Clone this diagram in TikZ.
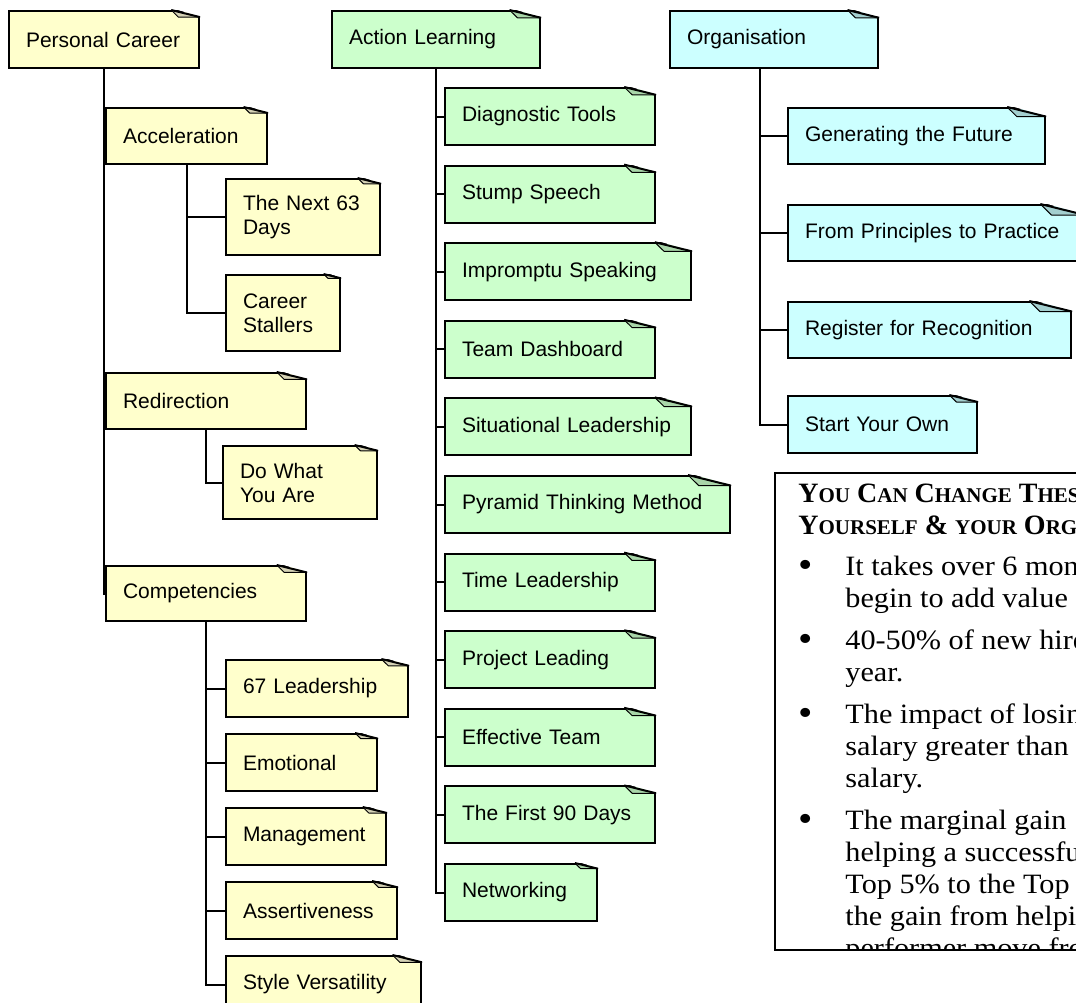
\documentclass[tikz,border=0pt]{standalone}
\usepackage{fontspec}
\setmainfont{Liberation Sans}
\newfontfamily\boxfont[FakeStretch=1.08]{Liberation Serif}
\newfontfamily\headfont{Liberation Serif}
\usetikzlibrary{positioning, calc}

\definecolor{noteyellow}{HTML}{FFFFCC}
\definecolor{notegreen}{HTML}{CCFFCC}
\definecolor{notecyan}{HTML}{CCFFFF}
\definecolor{foldyellow}{HTML}{D6D3B5}
\definecolor{foldgreen}{HTML}{A9D6A9}
\definecolor{foldcyan}{HTML}{A3CFCF}

\tikzset{
  leaf/.style={rectangle, draw=black, line width=1pt, anchor=north west, inner xsep=8.5pt, inner ysep=0pt, minimum height=28.5pt, text width=#1, align=left, font=\fontsize{10.5}{12}\selectfont},
  yleaf/.style={leaf=#1, fill=noteyellow},
  gleaf/.style={leaf=#1, fill=notegreen},
  cleaf/.style={leaf=#1, fill=notecyan},
  branch/.style={line width=1pt},
  fact/.style={anchor=base west, align=left, inner sep=0pt, font=\boxfont\fontsize{14}{16}\selectfont},
  dot/.style={anchor=base west, inner sep=0pt, font=\boxfont\fontsize{19}{16}\selectfont},
}

% dog-ear on the top right corner of a note
\newcommand{\fold}[2]{%
  \coordinate (f1) at ($(#1.north east)!0.15!(#1.north west)$);
  \coordinate (f2) at ($(#1.north east)!0.037!90:(#1.north west)$);
  \coordinate (f3) at ($(f1 |- f2)!0.25!(f2)$);
  \fill[white] ([yshift=1pt]f1) -- ([shift={(1pt,1pt)}]#1.north east) -- ([xshift=1pt]f2) -- cycle;
  \filldraw[fill=#2, line width=0.5pt, line join=round] (f1) -- (f3) -- (f2);
  \draw[line width=1pt] (f1) -- (f2);
}
\newcommand{\capsc}[2]{{\fontsize{14}{16}\selectfont #1}{\fontsize{10.5}{16}\selectfont #2}}

\begin{document}
\begin{tikzpicture}[x=0.5pt, y=-0.5pt]
    \useasboundingbox (0,0) rectangle (1076,1002);
    \clip (0,0) rectangle (1076,1002);

    % Top row
    \node[yleaf=78pt] (pc) at (8,10) {Personal Career};
    \node[gleaf=87pt] (al) at (331,10) {Action Learning};
    \node[cleaf=87pt] (org) at (669,10) {Organisation};

    % Personal career
    \node[yleaf=63.5pt, minimum height=28pt] (acc) at (105,107) {Acceleration};
    \node[yleaf=60pt, minimum height=38pt] (next) at (225,178) {The Next 63\\Days};
    \node[yleaf=40pt, minimum height=38pt] (stall) at (225,274) {Career\\Stallers};
    \node[yleaf=83pt, minimum height=28pt] (red) at (105,372) {Redirection};
    \node[yleaf=60pt, minimum height=36.5pt] (dwya) at (222,445) {Do What\\You Are};
    \node[yleaf=83pt, minimum height=27.5pt] (comp) at (105,565) {Competencies};
    \node[yleaf=74pt] (lead) at (225,659) {67 Leadership};
    \node[yleaf=58.5pt, below=7.5pt of lead.south west, anchor=north west] (emo) {Emotional};
    \node[yleaf=63pt, below=7.5pt of emo.south west, anchor=north west] (mgmt) {Management};
    \node[yleaf=68.5pt, below=7.5pt of mgmt.south west, anchor=north west] (asrt) {Assertiveness};
    \node[yleaf=80.5pt, below=7.5pt of asrt.south west, anchor=north west] (style) {Style Versatility};

    % Action learning
    \node[gleaf=88pt] (diag) at (444,87) {Diagnostic Tools};
    \node[gleaf=88pt, below=9.3pt of diag.south west, anchor=north west] (stump) {Stump Speech};
    \node[gleaf=106pt, below=9.3pt of stump.south west, anchor=north west] (impr) {Impromptu Speaking};
    \node[gleaf=88pt, below=9.3pt of impr.south west, anchor=north west] (team) {Team Dashboard};
    \node[gleaf=106pt, below=9.3pt of team.south west, anchor=north west] (situ) {Situational Leadership};
    \node[gleaf=125.5pt, below=9.3pt of situ.south west, anchor=north west] (pyr) {Pyramid Thinking Method};
    \node[gleaf=88pt, below=9.3pt of pyr.south west, anchor=north west] (time) {Time Leadership};
    \node[gleaf=88pt, below=9.3pt of time.south west, anchor=north west] (proj) {Project Leading};
    \node[gleaf=88pt, below=9.3pt of proj.south west, anchor=north west] (eff) {Effective Team};
    \node[gleaf=88pt, below=9.3pt of eff.south west, anchor=north west] (first) {The First 90 Days};
    \node[gleaf=59pt, below=9.3pt of first.south west, anchor=north west] (net) {Networking};

    % Organisation
    \node[cleaf=111.5pt, minimum height=28pt] (gen) at (787,107) {Generating the Future};
    \node[cleaf=131pt, minimum height=28pt, below=19.5pt of gen.south west, anchor=north west] (prin) {From Principles to Practice};
    \node[cleaf=124.5pt, minimum height=28pt, below=19.5pt of prin.south west, anchor=north west] (reg) {Register for Recognition};
    \node[cleaf=77.5pt, below=18pt of reg.south west, anchor=north west] (own) {Start Your Own};

    % Dog-ears
    \foreach \n in {pc, acc, next, stall, red, dwya, comp, lead, emo, mgmt, asrt, style}
        \fold{\n}{foldyellow};
    \foreach \n in {al, diag, stump, impr, team, situ, pyr, time, proj, eff, first, net}
        \fold{\n}{foldgreen};
    \foreach \n in {org, gen, prin, reg, own}
        \fold{\n}{foldcyan};

    % Branches
    \foreach \kid in {acc, red, comp}
        \draw[branch] (pc.south) |- (\kid.west);
    \foreach \kid in {next, stall}
        \draw[branch] (acc.south) |- (\kid.west);
    \draw[branch] (red.south) |- (dwya.west);
    \foreach \kid in {lead, emo, mgmt, asrt, style}
        \draw[branch] (comp.south) |- (\kid.west);
    \foreach \kid in {diag, stump, impr, team, situ, pyr, time, proj, eff, first, net}
        \draw[branch] (al.south) |- (\kid.west);
    \foreach \kid in {gen, prin, reg, own}
        \draw[branch] ([xshift=-7pt]org.south) |- (\kid.west);

    % Facts panel (anchors sit on the last line of each text)
    \draw[line width=0.75pt] (775,473) rectangle (1100,950);
    \begin{scope}
        \clip (775,473) rectangle (1100,950);
        \node[fact, font=\headfont\bfseries\fontsize{14}{16}\selectfont] (head) at (798,534)
            {\capsc{Y}{OU} \capsc{C}{AN} \capsc{C}{HANGE} \capsc{T}{HESE}\\
             \capsc{Y}{OURSELF} \capsc{\&}{} \capsc{}{YOUR} \capsc{O}{RGANISATION}};
        \node[dot] (dot1) at (798,577) {\textbullet};
        \node[fact] (fact1) at (845,607) {It takes over 6 months\\begin to add value};
        \node[dot] (dot2) at (798,651) {\textbullet};
        \node[fact] (fact2) at (845,681) {40-50\% of new hires\\year.};
        \node[dot] (dot3) at (798,725) {\textbullet};
        \node[fact] (fact3) at (845,787) {The impact of losing\\salary greater than\\salary.};
        \node[dot] (dot4) at (798,831) {\textbullet};
        \node[fact] (fact4) at (845,957) {The marginal gain\\helping a successful\\Top 5\% to the Top\\the gain from helping\\performer move from};
    \end{scope}

\end{tikzpicture}
\end{document}
